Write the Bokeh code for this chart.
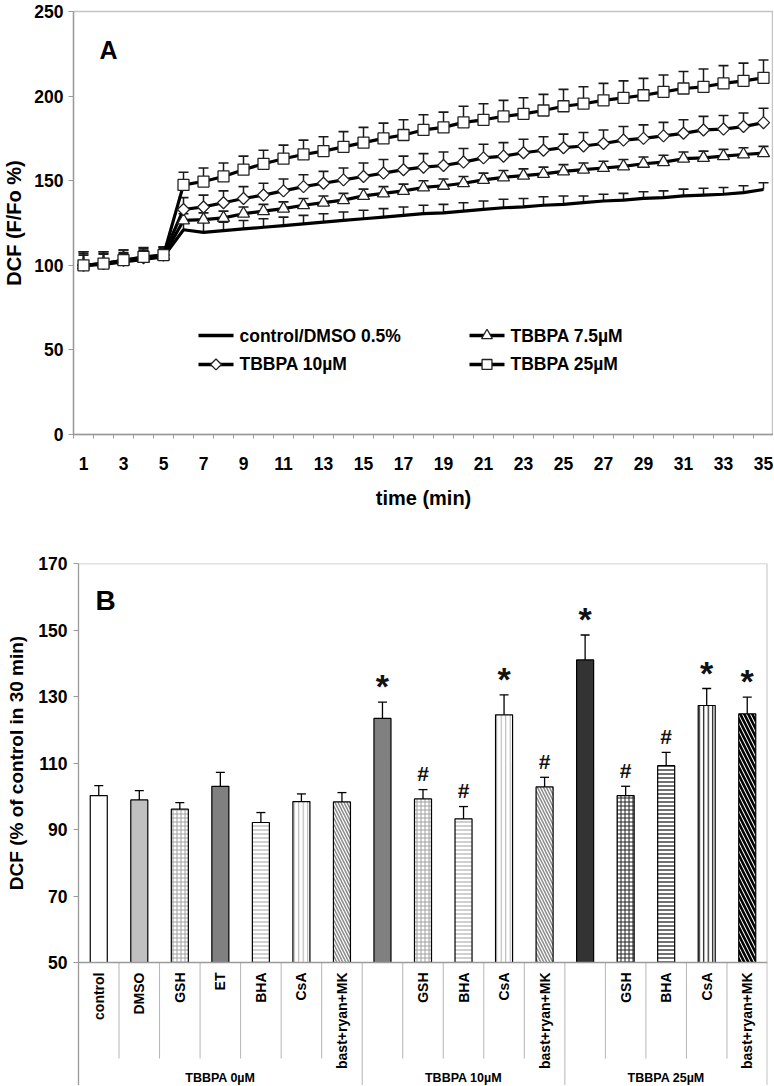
import math
from bokeh.plotting import figure
from bokeh.models import Range1d, FixedTicker, Span, ColumnDataSource
from bokeh.layouts import column, row
from bokeh.embed import file_html
from bokeh.resources import INLINE
from bokeh.core.properties import value

FONT = "Liberation Sans"
AXIS_GRAY = "#9a9a9a"
BORDER_GRAY = "#c4c4c4"

# ---------------- Panel A data ----------------
time_min = list(range(1, 36))
control = [100, 100.5, 102, 103.5, 105, 121, 119.5, 120.5, 121.5, 122.5, 123.5, 124.5,
           125.5, 126.5, 127.5, 128.5, 129.5, 130.5, 131, 132, 133, 134, 134.5, 135.5,
           136, 137, 138, 138.5, 139.5, 140, 141, 141.5, 142, 143, 144.8]
control_err = [6, 6, 5, 5, 5, 5, 6, 5, 5, 5, 5, 5, 5, 5, 5, 5, 5, 5, 5, 5, 5, 5, 5, 5,
               5, 4, 4, 4, 4, 4, 4, 4, 4, 4, 4]
tbbpa_7_5 = [100, 101, 102.5, 104, 105.5, 126.5, 127, 128, 130.5, 132, 133.5, 135.5,
             137, 138.5, 141, 142.5, 144, 146, 147, 148.5, 150.5, 152, 153, 154, 155.5,
             156.5, 157.5, 158.5, 160, 161, 163, 163.5, 164.5, 165.5, 166.3]
tbbpa_7_5_err = [7, 6, 5, 5, 5, 4, 4, 4, 4, 4, 4, 4, 4, 4, 4, 4, 4, 4, 4, 4, 4, 4, 4, 4,
                 4, 4, 4, 4, 4, 4, 4, 4, 4, 4, 4]
tbbpa_10 = [100, 101, 103, 104.5, 106, 133, 134.5, 137, 139.5, 141.5, 144, 146.5, 148.5,
            150.5, 152.5, 154.5, 156.5, 158, 159, 161, 163.5, 164.5, 166.5, 168, 169.5,
            170.5, 172, 174, 175, 176.5, 178, 180, 180.5, 182, 184.3]
tbbpa_10_err = [8, 7, 6, 6, 5, 7, 7, 7, 7, 7, 7, 7, 7, 7, 8, 8, 8, 8, 8, 8, 8, 8, 8, 8,
                8, 8, 8, 8, 8, 8, 8, 8, 8, 8, 8.5]
tbbpa_25 = [100, 101, 103, 105, 106, 147.5, 149.5, 152.5, 156.5, 160, 163, 165.5, 167.5,
            170, 172.5, 175, 177, 180, 181.5, 184.5, 186, 188, 189.5, 191.5, 194, 195.5,
            197.5, 199, 200.5, 202.5, 204.5, 205.5, 207.5, 209, 210.8]
tbbpa_25_err = [8, 7, 6, 5, 5, 7.5, 8, 8, 8, 8, 8, 8.5, 8.5, 9, 9, 9, 9, 9, 9, 9.5, 9.5,
                9.5, 9.5, 9.5, 10, 10, 10, 10, 10, 10, 10, 10.5, 10.5, 10.5, 10.5]
series_names = ["control/DMSO 0.5%", "TBBPA 7.5µM", "TBBPA 10µM", "TBBPA 25µM"]
x_tick_labels_a = [1, 3, 5, 7, 9, 11, 13, 15, 17, 19, 21, 23, 25, 27, 29, 31, 33, 35]
y_ticks_a = [0, 50, 100, 150, 200, 250]

# ---------------- Panel B data ----------------
conditions = ["control", "DMSO", "GSH", "ET", "BHA", "CsA", "bast+ryan+MK",
              "", "GSH", "BHA", "CsA", "bast+ryan+MK",
              "", "GSH", "BHA", "CsA", "bast+ryan+MK"]
groups = ["TBBPA 0µM", "TBBPA 10µM", "TBBPA 25µM"]
group_sizes = [7, 5, 5]
dcf_values = [100.2, 98.9, 96.1, 103, 92.1, 98.4, 98.3,
              123.4, 99.2, 93.2, 124.5, 102.8,
              141, 100.2, 109.2, 127.3, 124.8]
dcf_err = [3, 2.8, 2, 4.2, 3, 2.3, 2.8,
           4.9, 2.8, 3.7, 6, 2.9,
           7.5, 2.8, 4, 5.1, 5]
significance = ["", "", "", "", "", "", "",
                "*", "#", "#", "*", "#",
                "*", "#", "#", "*", "*"]
y_ticks_b = [50, 70, 90, 110, 130, 150, 170]

# bar styles
bar_fill = ["white", "#c0c0c0", "white", "#808080", "white", "white", "white",
            "#808080", "white", "white", "white", "white",
            "#333333", "white", "white", "white", "white"]
bar_hatch = ["blank", "blank", "cross", "blank", "horizontal_line", "vertical_line", "left_diagonal_line",
             "blank", "cross", "horizontal_line", "vertical_line", "left_diagonal_line",
             "blank", "cross", "horizontal_line", "vertical_line", "left_diagonal_line"]
bar_hatch_color = ["#999999", "#999999", "#a0a0a0", "#999999", "#a0a0a0", "#b0b0b0", "#8a8a8a",
                   "#999999", "#a0a0a0", "#a0a0a0", "#b0b0b0", "#8a8a8a",
                   "#000000", "#202020", "#101010", "#101010", "#000000"]
bar_hatch_scale = [4, 4, 4, 4, 4, 4.5, 6,
                   4, 4, 4, 4.5, 6,
                   4, 4, 4, 4.5, 8]
bar_hatch_weight = [1, 1, 1, 1, 1, 1, 1.5,
                    1, 1, 1, 1, 1.5,
                    1, 1, 1.2, 1.2, 2.6]

TICK_SIZE = "17.5px"


def style_axis(axis):
    axis.axis_line_color = AXIS_GRAY
    axis.axis_line_width = 1.3
    axis.major_tick_line_color = AXIS_GRAY
    axis.major_tick_in = 0
    axis.major_tick_out = 5
    axis.minor_tick_line_color = None
    axis.major_label_text_font = FONT
    axis.major_label_text_font_style = "bold"
    axis.major_label_text_font_size = TICK_SIZE
    axis.major_label_text_color = "black"
    axis.axis_label_text_font = FONT
    axis.axis_label_text_font_style = "bold"
    axis.axis_label_text_font_size = "20px"
    axis.axis_label_text_color = "black"


# ================= Panel A =================
pa = figure(width=773, height=515, x_range=Range1d(0.5, 35.5), y_range=Range1d(0, 250),
            output_backend="svg", toolbar_location=None,
            min_border_left=73, min_border_right=0, min_border_top=11, min_border_bottom=81)
pa.xgrid.visible = False
pa.ygrid.visible = False
pa.outline_line_color = BORDER_GRAY
pa.outline_line_width = 1.5

ax = pa.xaxis[0]
style_axis(ax)
ax.ticker = FixedTicker(ticks=x_tick_labels_a,
                        minor_ticks=[t - 0.5 for t in time_min] + [time_min[-1] + 0.5])
ax.major_tick_line_color = None
ax.major_tick_out = 0
ax.minor_tick_line_color = AXIS_GRAY
ax.minor_tick_in = 0
ax.minor_tick_out = 4
ax.major_label_standoff = 18
ax.axis_label = "time (min)"
ax.axis_label_standoff = 14

ay = pa.yaxis[0]
style_axis(ay)
ay.ticker = FixedTicker(ticks=y_ticks_a, minor_ticks=[])
ay.major_label_standoff = 5
ay.axis_label = "DCF (F/Fo %)"
ay.axis_label_standoff = 6

series = [
    (control, control_err, None, {}),
    (tbbpa_7_5, tbbpa_7_5_err, "triangle", dict(size=12)),
    (tbbpa_10, tbbpa_10_err, "square", dict(size=8.5, angle=math.pi / 4)),
    (tbbpa_25, tbbpa_25_err, "square", dict(size=11)),
]

for vals, err, mk, kw in series:
    tops = [v + e for v, e in zip(vals, err)]
    pa.segment(x0=time_min, y0=vals, x1=time_min, y1=tops, line_color="#1a1a1a", line_width=1.5)
    pa.scatter(x=time_min, y=tops, marker="dash", size=10, line_color="#1a1a1a", line_width=1.6)

for vals, err, mk, kw in series:
    pa.line(x=time_min, y=vals, line_color="black", line_width=3.2)

for vals, err, mk, kw in series:
    if mk is not None:
        pa.scatter(x=time_min, y=vals, marker=mk, fill_color="white", line_color="#222222",
                   line_width=1.3, **kw)

# legend (inside plot area)
leg_rows_y = [58.5, 58.5, 41.4, 41.4]
leg_x0 = [6.75, 20.3, 6.75, 20.3]
leg_len = 1.75
for i, (name, (vals, err, mk, kw)) in enumerate(zip(series_names, series)):
    x0 = leg_x0[i]
    y0 = leg_rows_y[i]
    pa.line(x=[x0, x0 + leg_len], y=[y0, y0], line_color="black", line_width=3.5)
    if mk is not None:
        kw2 = dict(kw)
        kw2["size"] = kw2.get("size", 10) * 0.9
        pa.scatter(x=[x0 + leg_len / 2], y=[y0], marker=mk, fill_color="white",
                   line_color="#222222", line_width=1.3, **kw2)
    pa.text(x=[x0 + leg_len + 0.3], y=[y0], text=[name], text_font=value(FONT),
            text_font_style="bold", text_font_size="17.5px", text_baseline="middle",
            text_align="left", text_color="black")

pa.text(x=[2.25], y=[227], text=["A"], text_font=value(FONT), text_font_style="bold",
        text_font_size="25px", text_align="center", text_baseline="middle", text_color="black")

# ================= Panel B =================
PX_PER_UNIT_B = 399 / 120.0
B_HEIGHT = 570
B_TOP = 48
y_bottom_b = 170 - (B_HEIGHT - B_TOP) / PX_PER_UNIT_B
yr_b = Range1d(y_bottom_b, 170)

# narrow strip that carries the y-axis title of panel B
tb = figure(width=30, height=B_HEIGHT, x_range=Range1d(0, 30), y_range=yr_b,
            x_axis_location=None, y_axis_location=None,
            output_backend="svg", toolbar_location=None,
            min_border_left=0, min_border_right=0, min_border_top=B_TOP, min_border_bottom=0)
tb.xgrid.visible = False
tb.ygrid.visible = False
tb.outline_line_color = None
tb.text(x=[16], y=[110], text=["DCF (% of control in 30 min)"], angle=math.pi / 2,
        text_font=value(FONT), text_font_style="bold", text_font_size="19px",
        text_align="center", text_baseline="middle", text_color="black")

pb = figure(width=743, height=B_HEIGHT, x_range=Range1d(0, len(conditions)),
            y_range=yr_b, x_axis_location=None,
            output_backend="svg", toolbar_location=None,
            min_border_left=48, min_border_right=6, min_border_top=B_TOP, min_border_bottom=0)
pb.xgrid.visible = False
pb.ygrid.visible = False
pb.outline_line_color = None

by = pb.yaxis[0]
style_axis(by)
by.ticker = FixedTicker(ticks=y_ticks_b, minor_ticks=[])
by.major_label_standoff = 6

base = y_ticks_b[0]
cat_x = [i + 0.5 for i in range(len(conditions))]

# borders & category axis
pb.add_layout(Span(location=170, dimension="width", line_color=BORDER_GRAY, line_width=1.5))
pb.add_layout(Span(location=len(conditions), dimension="height", line_color=BORDER_GRAY, line_width=2))
pb.add_layout(Span(location=base, dimension="width", line_color=AXIS_GRAY, line_width=1.3))

bounds = []
acc = 0
for g in group_sizes:
    acc += g
    bounds.append(acc)
inner = [i for i in range(1, len(conditions)) if i not in bounds]
sep_bottom = base - 96 / PX_PER_UNIT_B
pb.segment(x0=inner, y0=[base] * len(inner), x1=inner, y1=[sep_bottom] * len(inner),
           line_color="#b5b5b5", line_width=1)
gb = bounds[:-1]
pb.segment(x0=gb, y0=[base] * len(gb), x1=gb, y1=[y_bottom_b] * len(gb),
           line_color="#b5b5b5", line_width=1)

src = ColumnDataSource(dict(x=cat_x, top=dcf_values, fill=bar_fill, hatch=bar_hatch,
                            hcolor=bar_hatch_color, hscale=bar_hatch_scale,
                            hweight=bar_hatch_weight))
pb.vbar(x="x", top="top", bottom=base, width=0.42, source=src, fill_color="fill",
        line_color="black", line_width=1.2, hatch_pattern="hatch", hatch_color="hcolor",
        hatch_scale="hscale", hatch_weight="hweight")

err_tops = [v + e for v, e in zip(dcf_values, dcf_err)]
pb.segment(x0=cat_x, y0=dcf_values, x1=cat_x, y1=err_tops, line_color="black", line_width=1.3)
pb.scatter(x=cat_x, y=err_tops, marker="dash", size=9, line_color="black", line_width=1.3)

star_x = [x for x, s in zip(cat_x, significance) if s == "*"]
star_y = [y for y, s in zip(err_tops, significance) if s == "*"]
hash_x = [x for x, s in zip(cat_x, significance) if s == "#"]
hash_y = [y for y, s in zip(err_tops, significance) if s == "#"]
pb.text(x=star_x, y=star_y, text=["*"] * len(star_x), text_font=value(FONT),
        text_font_style="bold", text_font_size="34px", text_align="center",
        text_baseline="alphabetic", y_offset=-16, text_color="#111111")
pb.text(x=hash_x, y=hash_y, text=["#"] * len(hash_x), text_font=value(FONT),
        text_font_style="bold", text_font_size="21px", text_align="center",
        text_baseline="alphabetic", y_offset=-16, text_color="#111111")

# category labels (rotated)
lab_y = base - 10 / PX_PER_UNIT_B
pb.text(x=cat_x, y=[lab_y] * len(cat_x), text=conditions, angle=math.pi / 2,
        text_font=value(FONT), text_font_style="bold", text_font_size="14px",
        text_align="right", text_baseline="middle", text_color="black")

# group labels
starts = [0] + bounds[:-1]
grp_x = [(s + e) / 2 for s, e in zip(starts, bounds)]
grp_y = base - 115 / PX_PER_UNIT_B
pb.text(x=grp_x, y=[grp_y] * len(grp_x), text=groups, text_font=value(FONT),
        text_font_style="bold", text_font_size="12.5px", text_align="center",
        text_baseline="middle", text_color="black")

pb.text(x=[0.67], y=[158.9], text=["B"], text_font=value(FONT), text_font_style="bold",
        text_font_size="28px", text_align="center", text_baseline="middle", text_color="black")

layout = column(pa, row(tb, pb))
open("out.html", "w").write(file_html(layout, INLINE))
